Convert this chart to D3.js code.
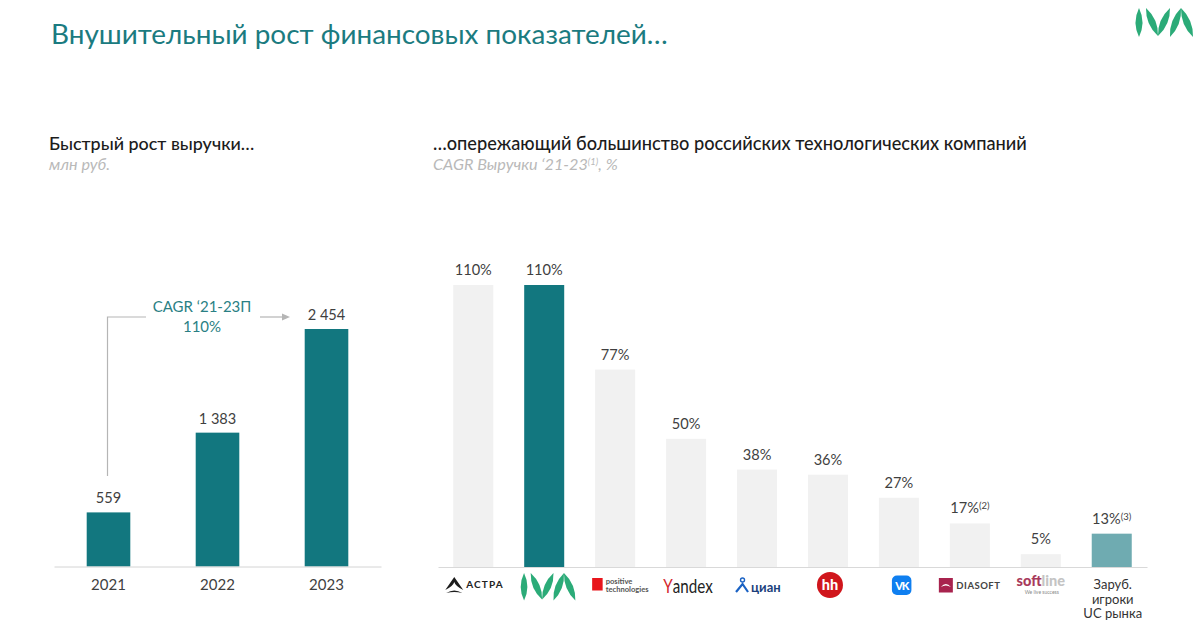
<!DOCTYPE html>
<html>
<head>
<meta charset="utf-8">
<script src="https://cdn.jsdelivr.net/npm/d3@7"></script>
<style>
    body { margin: 0; background: #fff; }
    text { font-family: Lato, "Open Sans", sans-serif; }
</style>
</head>
<body>
<svg id="chart" width="1200" height="633"></svg>
<script>
var years = ["2021", "2022", "2023"]
var revenue = [559, 1383, 2454]
var revenue_labels = ["559", "1 383", "2 454"]

var companies = ["astra", "iva", "positive", "yandex", "cian", "hh", "vk", "diasoft", "softline", "foreign"]
var cagr = [110, 110, 77, 50, 38, 36, 27, 17, 5, 13]
var cagr_notes = ["", "", "", "", "", "", "", "(2)", "", "(3)"]
var foreign_label = ["Заруб.", "игроки", "UC рынка"]

var teal = "#12777f"
var svg = d3.select("#chart")

function add_text(x, y, str, size, fill, anchor) {
    return svg.append("text")
        .attr("x", x)
        .attr("y", y)
        .attr("font-size", size)
        .attr("fill", fill)
        .attr("text-anchor", anchor || "start")
        .text(str)
}

// headings
add_text(51, 44, "Внушительный рост финансовых показателей…", 27.9, "#1b7b80")
add_text(49, 150, "Быстрый рост выручки…", 17.9, "#1c1c1c").attr("font-weight", 500)
add_text(49, 170, "млн руб.", 16.2, "#b9b9b9").attr("font-style", "italic")
add_text(433, 150, "…опережающий большинство российских технологических компаний", 18.2, "#1c1c1c").attr("font-weight", 500)
var sub = add_text(433, 170, "CAGR Выручки ‘21-23", 16.2, "#b9b9b9").attr("font-style", "italic")
sub.append("tspan").attr("dy", -5).attr("font-size", 9.5).text("(1)")
sub.append("tspan").attr("dy", 5).text(", %")

// the leaf shaped letters of the logo
function leaf(x0, y0, x1, y1, w) {
    var mx = (x0 + x1) / 2, my = (y0 + y1) / 2
    var dx = y1 - y0, dy = x0 - x1
    var len = Math.sqrt(dx * dx + dy * dy)
    dx = dx / len * w
    dy = dy / len * w
    return "M" + x0 + "," + y0 + "Q" + (mx + dx) + "," + (my + dy) + " " + x1 + "," + y1
        + "Q" + (mx - dx) + "," + (my - dy) + " " + x0 + "," + y0 + "Z"
}

function iva_logo(x, y, k) {
    var g = svg.append("g")
        .attr("transform", "translate(" + x + "," + y + ") scale(" + k + ")")
        .attr("fill", "#2bab78")
    var leaves = [[3, 0, 3, 29, 7], [10, 0, 22, 28, 7], [34, 0, 22, 28, 7], [34, 29, 45, 0, 7], [57, 29, 45, 0, 7]]
    leaves.forEach(function (d) {
        g.append("path").attr("d", leaf(d[0], d[1], d[2], d[3], d[4]))
    })
}
iva_logo(1136, 8, 1)

// left chart, revenue
var base_left = 566.5
var x_left = d3.scaleBand().domain(years).range([54, 381]).paddingInner(0.6).paddingOuter(0.3)
var y_left = d3.scaleLinear().domain([0, 2454]).range([base_left, 329])

svg.selectAll(".rev").data(years).enter().append("rect")
    .attr("class", "rev")
    .attr("x", function (d) { return x_left(d) })
    .attr("width", x_left.bandwidth())
    .attr("y", function (d, i) { return y_left(revenue[i]) })
    .attr("height", function (d, i) { return base_left - y_left(revenue[i]) })
    .attr("fill", teal)

svg.selectAll(".rev_label").data(years).enter().append("text")
    .attr("class", "rev_label")
    .attr("x", function (d) { return x_left(d) + x_left.bandwidth() / 2 })
    .attr("y", function (d, i) { return y_left(revenue[i]) - 9 })
    .attr("text-anchor", "middle")
    .attr("font-size", 14.6)
    .attr("fill", "#3f3f3f")
    .text(function (d, i) { return revenue_labels[i] })

var axis_left = svg.append("g")
    .attr("transform", "translate(0," + base_left + ")")
    .call(d3.axisBottom(x_left).tickSize(0).tickPadding(13))
axis_left.select(".domain").attr("stroke", "#d4d4d4")
axis_left.selectAll("text").attr("font-size", 15).attr("fill", "#3f3f3f").attr("font-family", "Lato, sans-serif")

// CAGR bracket and arrow
var bracket_x = x_left("2021") + x_left.bandwidth() / 2 - 1
svg.append("path")
    .attr("d", "M" + bracket_x + ",476V317H146")
    .attr("fill", "none").attr("stroke", "#b5b5b5").attr("stroke-width", 1.2)
svg.append("path")
    .attr("d", "M260,317H284")
    .attr("fill", "none").attr("stroke", "#b5b5b5").attr("stroke-width", 1.2)
svg.append("path")
    .attr("d", "M290,317L282,313.5V320.5Z")
    .attr("fill", "#b5b5b5")
add_text(202, 312, "CAGR ‘21-23П", 15, "#2a7f84", "middle")
add_text(202, 332, "110%", 15, "#2a7f84", "middle")

// right chart, CAGR by company
var base_right = 567
var x_right = d3.scaleBand().domain(companies).range([438, 1147]).paddingInner(0.436).paddingOuter(0.215)
var y_right = d3.scaleLinear().domain([0, 110]).range([base_right, 285])

function bar_color(d) {
    if (d == "iva") return teal
    if (d == "foreign") return "#6fabb1"
    return "#f1f1f1"
}

svg.selectAll(".cagr").data(companies).enter().append("rect")
    .attr("class", "cagr")
    .attr("x", function (d) { return x_right(d) })
    .attr("width", x_right.bandwidth())
    .attr("y", function (d, i) { return y_right(cagr[i]) })
    .attr("height", function (d, i) { return base_right - y_right(cagr[i]) })
    .attr("fill", bar_color)

var cagr_labels = svg.selectAll(".cagr_label").data(companies).enter().append("text")
    .attr("class", "cagr_label")
    .attr("x", function (d) { return x_right(d) + x_right.bandwidth() / 2 })
    .attr("y", function (d, i) { return y_right(cagr[i]) - 10 })
    .attr("text-anchor", "middle")
    .attr("font-size", 14.6)
    .attr("fill", "#3f3f3f")
    .text(function (d, i) { return cagr[i] + "%" })
cagr_labels.filter(function (d, i) { return cagr_notes[i] != "" })
    .append("tspan")
    .attr("dy", -4)
    .attr("font-size", 9.5)
    .text(function (d) { return cagr_notes[companies.indexOf(d)] })

var axis_right = svg.append("g")
    .attr("transform", "translate(0," + base_right + ")")
    .call(d3.axisBottom(x_right).tickSize(0).tickFormat(""))
axis_right.select(".domain").attr("stroke", "#d9d9d9")

// company logos under the axis, placed from the band centre
function center(name) {
    return x_right(name) + x_right.bandwidth() / 2
}

var c = center("astra")
svg.append("path")
    .attr("d", "M" + (c - 19) + ",577L" + (c - 28) + ",590Q" + (c - 20) + ",586 " + (c - 19) + ",582Q" + (c - 18) + ",586 " + (c - 10) + ",590Z"
        + "M" + (c - 27) + ",593Q" + (c - 19) + ",588 " + (c - 11) + ",593Q" + (c - 19) + ",591 " + (c - 27) + ",593Z")
    .attr("fill", "#1d1d1d")
add_text(c - 7, 588, "АСТРА", 10, "#222").attr("font-weight", 700).attr("letter-spacing", 1.1)

iva_logo(center("iva") - 23, 573, 0.95)

c = center("positive")
svg.append("rect").attr("x", c - 23).attr("y", 578).attr("width", 10.5).attr("height", 12.5).attr("fill", "#e8151b")
add_text(c - 9.5, 583.5, "positive", 7.6, "#555").attr("font-weight", 700)
add_text(c - 9.5, 591.5, "technologies", 7.6, "#555").attr("font-weight", 700)

// narrow wordmark, squeezed with a transform since no condensed face is installed
c = center("yandex")
svg.append("text")
    .attr("transform", "translate(" + (c + 2) + ",593) scale(0.76,1)")
    .attr("text-anchor", "middle")
    .attr("font-size", 20)
    .attr("fill", "#222")
    .html("<tspan fill='#d3272c'>Y</tspan>andex")

c = center("cian")
svg.append("circle").attr("cx", c - 14.5).attr("cy", 580).attr("r", 2).attr("fill", "none").attr("stroke", "#1a62c4").attr("stroke-width", 1.4)
svg.append("path")
    .attr("d", "M" + (c - 21) + ",592L" + (c - 14.5) + ",584L" + (c - 9) + ",592")
    .attr("fill", "none").attr("stroke", "#1a62c4").attr("stroke-width", 2.2)
add_text(c - 6, 592, "циан", 13, "#1b3f7c").attr("font-weight", 700)

c = center("hh")
svg.append("circle").attr("cx", c + 2).attr("cy", 585).attr("r", 13).attr("fill", "#d0161c")
add_text(c + 2, 590, "hh", 14.5, "#fff", "middle").attr("font-weight", 900)

c = center("vk")
svg.append("rect").attr("x", c - 7).attr("y", 575.5).attr("width", 19.5).attr("height", 19.5).attr("rx", 5).attr("fill", "#0f7ff0")
add_text(c + 2.8, 589.5, "VK", 11, "#fff", "middle").attr("font-weight", 900).attr("letter-spacing", -1.2)

c = center("diasoft")
svg.append("rect").attr("x", c - 31).attr("y", 578).attr("width", 14).attr("height", 14.5).attr("fill", "#a8234e")
svg.append("path")
    .attr("d", "M" + (c - 29) + ",587Q" + (c - 24) + ",581 " + (c - 19) + ",587Q" + (c - 24) + ",584 " + (c - 29) + ",587Z")
    .attr("fill", "#fff")
add_text(c - 13.5, 588.5, "DIASOFT", 9.5, "#444").attr("font-weight", 700).attr("letter-spacing", 0.5)

c = center("softline")
var soft = svg.append("text")
    .attr("x", c)
    .attr("y", 586)
    .attr("text-anchor", "middle")
    .attr("font-size", 14.5)
    .attr("font-weight", 900)
soft.append("tspan").attr("fill", "#a83a5c").text("soft")
soft.append("tspan").attr("fill", "#c4c4c4").text("line")
add_text(c + 1, 594, "We live success", 5, "#888", "middle")

c = center("foreign")
foreign_label.forEach(function (line, i) {
    add_text(c + 1, 589 + i * 14.7, line, 13, "#333", "middle")
})
</script>
</body>
</html>
